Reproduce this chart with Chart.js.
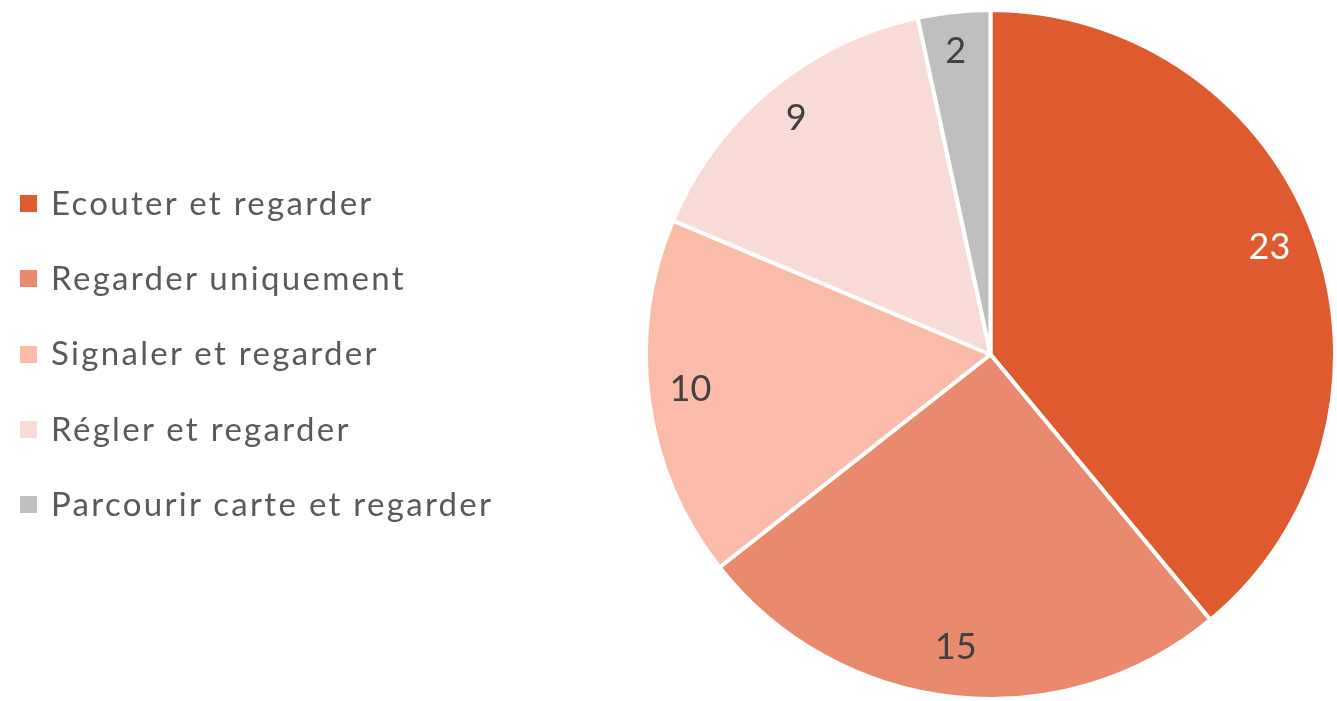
<!DOCTYPE html>
<html lang="fr">
<head>
<meta charset="UTF-8">
<title>Pie</title>
<script src="https://cdn.jsdelivr.net/npm/chart.js@4"></script>
<style>
    html, body { margin: 0; padding: 0; background: #fff; }
    #wrap { position: relative; width: 1337px; height: 701px; }
    #legend { position: absolute; left: 20px; top: 164px; font-family: Lato, "Open Sans", sans-serif; font-size: 33px; letter-spacing: 2.3px; color: #595959; }
    #legend div { height: 75.3px; line-height: 44px; display: flex; align-items: center; }
    #legend span.box { display: inline-block; width: 17px; height: 17px; margin-right: 14px; margin-top: 4px; }
</style>
</head>
<body>
<div id="wrap">
    <canvas id="chart" width="1337" height="701"></canvas>
    <div id="legend"></div>
</div>
<script>
const labels = ['Ecouter et regarder', 'Regarder uniquement', 'Signaler et regarder', 'Régler et regarder', 'Parcourir carte et regarder'];
const values = [23, 15, 10, 9, 2];
const colors = ['#E05A30', '#E9896D', '#FABBA8', '#F8DBD6', '#BFBFBF'];
const labelColors = ['#ffffff', '#404040', '#404040', '#404040', '#404040'];

// legend on the left, html
const legend = document.getElementById('legend');
labels.forEach(function (l, i) {
    const row = document.createElement('div');
    row.innerHTML = '<span class="box" style="background:' + colors[i] + '"></span>' + l;
    legend.appendChild(row);
});

const valueLabels = {
    id: 'valueLabels',
    afterDatasetsDraw: (chart) => {
        const {ctx} = chart;
        const meta = chart.getDatasetMeta(0);
        ctx.save();
        ctx.font = '36px Lato, "Open Sans", sans-serif';
        ctx.textAlign = 'center';
        ctx.textBaseline = 'middle';
        meta.data.forEach((arc, i) => {
            const p = arc.getProps(['x', 'y', 'startAngle', 'endAngle', 'outerRadius']);
            const a = (p.startAngle + p.endAngle) / 2;
            const r = p.outerRadius * 0.87;
            ctx.fillStyle = labelColors[i];
            ctx.fillText(values[i], p.x + Math.cos(a) * r - 3, p.y + Math.sin(a) * r - 5);
        });
        ctx.restore();
    }
};

new Chart(document.getElementById('chart'), {
    type: 'pie',
    data: {
        labels: labels,
        datasets: [{
            data: values,
            backgroundColor: colors,
            borderColor: '#ffffff',
            borderWidth: 4
        }]
    },
    options: {
        responsive: false,
        animation: false,
        layout: { padding: { left: 644, right: 0, top: 8, bottom: 0 } },
        plugins: {
            legend: { display: false },
            tooltip: { enabled: false }
        }
    },
    plugins: [valueLabels]
});
</script>
</body>
</html>
